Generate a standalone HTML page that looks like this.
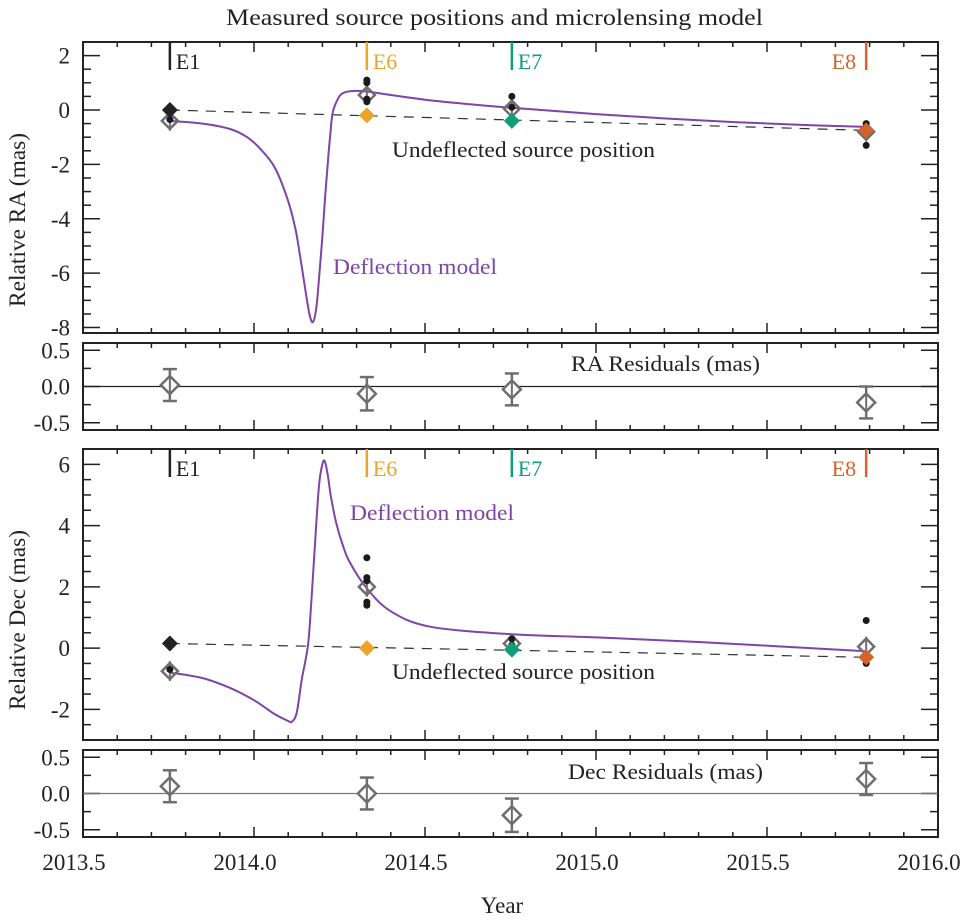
<!DOCTYPE html>
<html><head><meta charset="utf-8">
<style>
html,body{margin:0;padding:0;background:#fff;}
svg{display:block;font-family:"Liberation Serif",serif;}
</style></head>
<body>
<svg id="chart" width="961" height="924" viewBox="0 0 961 924" xmlns="http://www.w3.org/2000/svg">
<text x="226" y="25" font-size="23" textLength="537" lengthAdjust="spacingAndGlyphs" fill="#222">Measured source positions and microlensing model</text>
<g id="plot"></g>
</svg>
<script>
// ---- data ----
const epochNames = ["E1","E6","E7","E8"];
const epochYears = [2013.754, 2014.33, 2014.754, 2015.79];
const epochColors = ["#222222","#e8a52a","#0e9e78","#d5622a"];
const xTicks = [2013.5, 2014.0, 2014.5, 2015.0, 2015.5, 2016.0];
const xTickLabels = ["2013.5","2014.0","2014.5","2015.0","2015.5","2016.0"];

const raModelYears = [2013.754,2013.85,2013.93,2013.98,2014.02,2014.06,2014.096,2014.12,2014.135,2014.15,2014.162,2014.172,2014.182,2014.19,2014.199,2014.208,2014.216,2014.223,2014.23,2014.245,2014.26,2014.29,2014.33,2014.4,2014.5,2014.6,2014.754,2015.0,2015.3,2015.6,2015.79];
const raModelValues = [-0.4,-0.5,-0.7,-1.0,-1.45,-2.1,-3.2,-4.3,-5.4,-6.6,-7.5,-7.8,-7.3,-6.2,-4.8,-3.2,-1.9,-0.9,-0.1,0.4,0.62,0.7,0.68,0.55,0.38,0.25,0.08,-0.15,-0.38,-0.55,-0.62];
const decModelYears = [2013.754,2013.85,2013.93,2014.0,2014.06,2014.1,2014.111,2014.125,2014.14,2014.158,2014.168,2014.178,2014.19,2014.2,2014.207,2014.215,2014.225,2014.24,2014.26,2014.28,2014.33,2014.4,2014.515,2014.754,2015.0,2015.3,2015.79];
const decModelValues = [-0.8,-0.98,-1.3,-1.7,-2.15,-2.38,-2.4,-2.1,-1.0,0.1,1.6,3.35,5.3,6.0,6.1,5.7,4.95,4.1,3.35,2.8,1.95,1.2,0.7,0.45,0.35,0.2,-0.1];

const raTrue = [0.0, -0.2, -0.4, -0.75];
const decTrue = [0.15, 0.0, -0.05, -0.3];
const raMeas = [-0.4, 0.55, 0.05, -0.8];
const decMeas = [-0.75, 2.0, 0.15, 0.05];
const raDotsEpoch = [0,1,1,1,1,2,2,3,3,3];
const raDotsValue = [-0.35,1.1,1.0,0.4,0.3,0.5,0.1,-0.5,-1.3,-0.6];
const decDotsEpoch = [0,1,1,1,1,1,2,2,3,3,3];
const decDotsValue = [-0.7,2.95,2.3,2.2,1.5,1.4,0.3,0.1,0.9,-0.5,-0.4];
const raRes = [0.02, -0.1, -0.04, -0.22];
const raResErr = [0.22, 0.23, 0.22, 0.22];
const decRes = [0.1, 0.0, -0.3, 0.2];
const decResErr = [0.22, 0.22, 0.23, 0.22];

// ---- layout ----
const NS = "http://www.w3.org/2000/svg";
const g = document.getElementById("plot");
const X0 = 83, X1 = 938, XMIN = 2013.5, XMAX = 2016.0;
const sx = v => X0 + (v - XMIN) / (XMAX - XMIN) * (X1 - X0);
function mk(tag, attrs, parent) {
  const e = document.createElementNS(NS, tag);
  for (const k in attrs) e.setAttribute(k, attrs[k]);
  (parent || g).appendChild(e);
  return e;
}
function makeY(top, bot, vmin, vmax) { return v => bot - (v - vmin) / (vmax - vmin) * (bot - top); }

const panels = [
  {name:"ra-panel", top:42, bot:333, vmin:-8.2, vmax:2.5, major:[-8,-6,-4,-2,0,2], labels:["-8","-6","-4","-2","0","2"], minor:0.5},
  {name:"ra-residual-panel", top:343, bot:430, vmin:-0.6, vmax:0.6, major:[-0.5,0,0.5], labels:["-0.5","0.0","0.5"], minor:0.25},
  {name:"dec-panel", top:449, bot:740, vmin:-3.0, vmax:6.5, major:[-2,0,2,4,6], labels:["-2","0","2","4","6"], minor:0.5},
  {name:"dec-residual-panel", top:750, bot:837, vmin:-0.6, vmax:0.6, major:[-0.5,0,0.5], labels:["-0.5","0.0","0.5"], minor:0.25}
];
panels.forEach(p => p.y = makeY(p.top, p.bot, p.vmin, p.vmax));

panels.forEach(p => {
  const pg = mk("g", {});
  
  
  const fr = mk("rect", {x:X0, y:p.top, width:X1-X0, height:p.bot-p.top, fill:"none", stroke:"#222", "stroke-width":2}, pg);
  
  
  for (let i = 0; i <= 25; i++) {
    const yr = XMIN + i * 0.1;
    const x = sx(yr);
    const len = (i % 5 === 0) ? 10 : 5;
    mk("line", {x1:x, x2:x, y1:p.bot, y2:p.bot-len, stroke:"#222", "stroke-width":1.5}, pg);
    mk("line", {x1:x, x2:x, y1:p.top, y2:p.top+len, stroke:"#222", "stroke-width":1.5}, pg);
  }
  for (let v = Math.ceil(p.vmin / p.minor) * p.minor; v <= p.vmax + 1e-9; v += p.minor) {
    const y = p.y(v);
    const isMajor = p.major.some(m => Math.abs(m - v) < 1e-6);
    const len = isMajor ? 17 : 8;
    mk("line", {x1:X0, x2:X0+len, y1:y, y2:y, stroke:"#222", "stroke-width":1.5}, pg);
    mk("line", {x1:X1, x2:X1-len, y1:y, y2:y, stroke:"#222", "stroke-width":1.5}, pg);
  }
  p.major.forEach((v, i) => {
    const t = mk("text", {x:X0-13, y:p.y(v)+8, "font-size":23, "text-anchor":"end", fill:"#222"}, pg);
    t.textContent = p.labels[i];
    
    
  });
});

xTicks.forEach((v, i) => {
  const t = mk("text", {x:sx(v)-9, y:870, "font-size":23, "text-anchor":"middle", fill:"#222"});
  t.textContent = xTickLabels[i];
  
  
});
const xt = mk("text", {x:502, y:913, "font-size":23, "text-anchor":"middle", fill:"#222"});
xt.textContent = "Year";



function ytitle(txt, cy, len, name) {
  const t = mk("text", {x:0, y:0, "font-size":23, "text-anchor":"middle", textLength:len, lengthAdjust:"spacingAndGlyphs", fill:"#222", transform:`translate(25,${cy}) rotate(-90)`});
  t.textContent = txt;
  
  
}
ytitle("Relative RA (mas)", 220, 174, "ra-axis-title");
ytitle("Relative Dec (mas)", 620, 180, "dec-axis-title");

function label(txt, x, y, color, name, anchor, len) {
  const a = {x:x, y:y, "font-size":22, fill:color, "text-anchor":anchor || "start"};
  if (len) { a.textLength = len; a.lengthAdjust = "spacingAndGlyphs"; }
  const t = mk("text", a);
  t.textContent = txt;
  
  
}

function smoothPath(xs, ys) {
  let d = "M" + xs[0].toFixed(1) + "," + ys[0].toFixed(1);
  for (let i = 0; i < xs.length - 1; i++) {
    const i0 = Math.max(0, i - 1), i3 = Math.min(xs.length - 1, i + 2);
    const c1x = xs[i] + (xs[i+1] - xs[i0]) / 6, c1y = ys[i] + (ys[i+1] - ys[i0]) / 6;
    const c2x = xs[i+1] - (xs[i3] - xs[i]) / 6, c2y = ys[i+1] - (ys[i3] - ys[i]) / 6;
    d += `C${c1x.toFixed(1)},${c1y.toFixed(1)} ${c2x.toFixed(1)},${c2y.toFixed(1)} ${xs[i+1].toFixed(1)},${ys[i+1].toFixed(1)}`;
  }
  return d;
}

function mainPanel(p, modelY, modelV, trueV, measV, dotE, dotV, pre) {
  epochYears.forEach((yr, i) => {
    const x = sx(yr);
    const l = mk("line", {x1:x, x2:x, y1:p.top, y2:p.top+28, stroke:epochColors[i], "stroke-width":2.5});
    
    
    const last = i === epochYears.length - 1;
    label(epochNames[i], last ? x-10 : x+6, p.top+27, epochColors[i], 'epoch-label-' + epochNames[i].toLowerCase(), last ? "end" : "start");
  });
  const n = trueV.length - 1;
  const dl = mk("line", {x1:sx(epochYears[0]), y1:p.y(trueV[0]), x2:sx(epochYears[n]), y2:p.y(trueV[n]), stroke:"#333", "stroke-width":1.2, "stroke-dasharray":"10,8"});
  
  
  const c = mk("path", {d:smoothPath(modelY.map(sx), modelV.map(p.y)), fill:"none", stroke:"#7f44a6", "stroke-width":2, "stroke-linejoin":"round"});
  
  
  measV.forEach((v, i) => {
    const x = sx(epochYears[i]), y = p.y(v), r = 8;
    const m = mk("path", {d:`M${x},${y-r}L${x+r},${y}L${x},${y+r}L${x-r},${y}Z`, fill:"none", stroke:"#6e6e6e", "stroke-width":2.5});
    
    
    mk("line", {x1:x, x2:x, y1:y-r-2, y2:y+r+2, stroke:"#6e6e6e", "stroke-width":2});
  });
  dotE.forEach((e, i) => {
    const dt = mk("circle", {cx:sx(epochYears[e]), cy:p.y(dotV[i]), r:3.5, fill:"#1a1a1a"});
    
    
  });
  trueV.forEach((v, i) => {
    const x = sx(epochYears[i]), y = p.y(v), r = 8;
    const m = mk("path", {d:`M${x},${y-r}L${x+r},${y}L${x},${y+r}L${x-r},${y}Z`, fill:epochColors[i]});
    
    
  });
}

function resPanel(p, res, err, pre, zeroColor) {
  const zl = mk("line", {x1:X0, x2:X1, y1:p.y(0), y2:p.y(0), stroke:zeroColor, "stroke-width":1.2});
  
  
  res.forEach((v, i) => {
    const x = sx(epochYears[i]), y = p.y(v), r = 9;
    const yt = p.y(v + err[i]), yb = p.y(v - err[i]);
    mk("line", {x1:x, x2:x, y1:yt, y2:yb, stroke:"#6e6e6e", "stroke-width":2.5});
    mk("line", {x1:x-7, x2:x+7, y1:yt, y2:yt, stroke:"#6e6e6e", "stroke-width":2.5});
    mk("line", {x1:x-7, x2:x+7, y1:yb, y2:yb, stroke:"#6e6e6e", "stroke-width":2.5});
    const m = mk("path", {d:`M${x},${y-r}L${x+r},${y}L${x},${y+r}L${x-r},${y}Z`, fill:"#fff", stroke:"#6e6e6e", "stroke-width":2.5});
    
    
    mk("line", {x1:x, x2:x, y1:y-r, y2:y+r, stroke:"#6e6e6e", "stroke-width":2});
  });
}

mainPanel(panels[0], raModelYears, raModelValues, raTrue, raMeas, raDotsEpoch, raDotsValue, "ra");
mainPanel(panels[2], decModelYears, decModelValues, decTrue, decMeas, decDotsEpoch, decDotsValue, "dec");
resPanel(panels[1], raRes, raResErr, "ra-residual", "#222");
resPanel(panels[3], decRes, decResErr, "dec-residual", "#777");

label("Undeflected source position", 392, 157, "#222", "ra-undeflected-label", "start", 263);
label("Deflection model", 333, 274, "#7f44a6", "ra-deflection-label", "start", 164);
label("RA Residuals (mas)", 571, 371, "#222", "ra-residuals-label", "start", 189);
label("Deflection model", 350, 520, "#7f44a6", "dec-deflection-label", "start", 164);
label("Undeflected source position", 392, 679, "#222", "dec-undeflected-label", "start", 263);
label("Dec Residuals (mas)", 568, 779, "#222", "dec-residuals-label", "start", 195);
</script>
</body></html>
